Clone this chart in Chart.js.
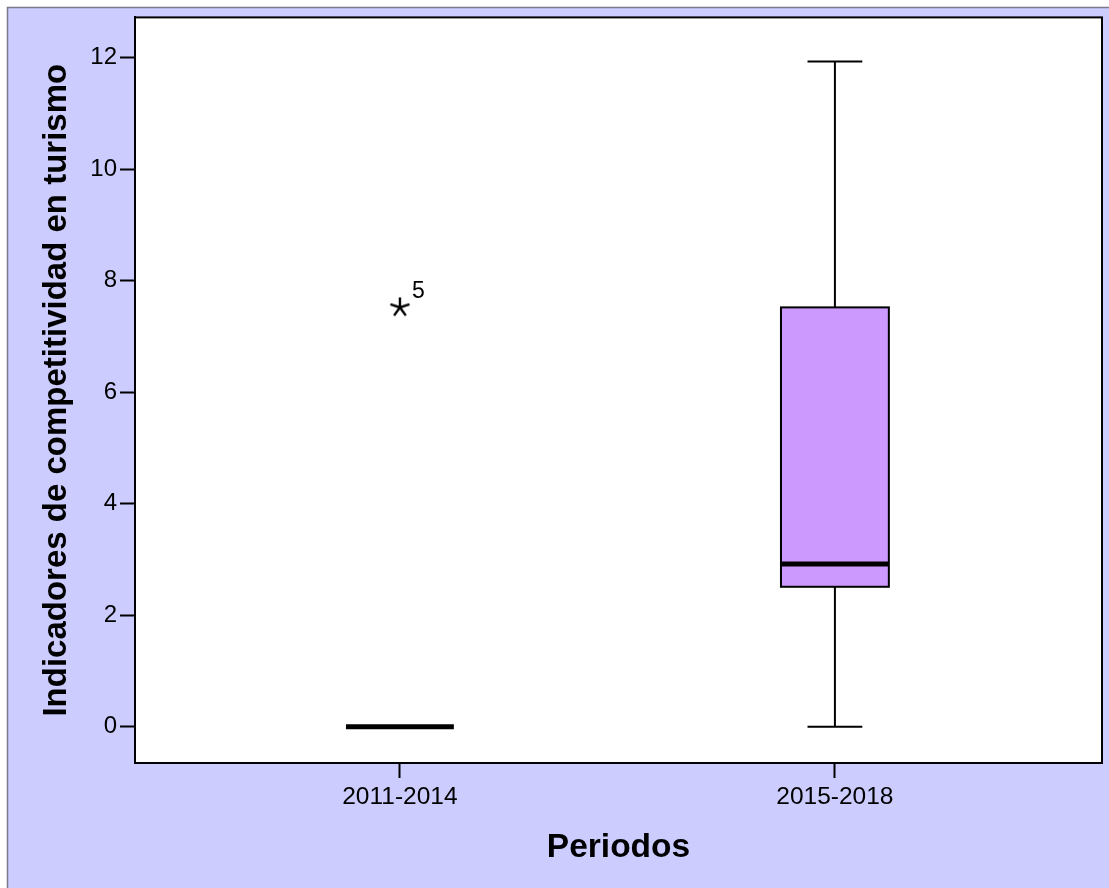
<!DOCTYPE html>
<html>
<head>
<meta charset="utf-8">
<script src="https://cdn.jsdelivr.net/npm/chart.js@4.4.1/dist/chart.umd.min.js"></script>
<style>
  html, body { margin: 0; padding: 0; background: #ffffff; }
  #wrap { width: 1109px; height: 888px; position: relative; }
</style>
</head>
<body>
<div id="wrap"><canvas id="c" width="1109" height="888"></canvas></div>
<script>
// ---- data ----
const categories = ['2011-2014', '2015-2018'];
const whiskerLow = [0, 0];
const q1Values = [0, 2.51];
const medianValues = [0, 2.92];
const q3Values = [0, 7.52];
const whiskerHigh = [0, 11.93];
const outlierGroup = [1];
const outlierValues = [7.52];
const outlierLabels = ['5'];
const yTickValues = [0, 2, 4, 6, 8, 10, 12];

const FONT = "'Liberation Sans', Arial, sans-serif";
const xPos = categories.map((c, i) => i + 1);

// asterisk marker for the outlier
function makeStar() {
  const cv = document.createElement('canvas');
  cv.width = 26; cv.height = 26;
  const g = cv.getContext('2d');
  g.strokeStyle = '#000'; g.lineWidth = 2.4; g.lineCap = 'butt';
  const r = 10, cx = 13, cy = 13;
  for (let k = 0; k < 5; k++) {
    const a = (-90 + k * 72) * Math.PI / 180;
    g.beginPath(); g.moveTo(cx, cy); g.lineTo(cx + r * Math.cos(a), cy + r * Math.sin(a)); g.stroke();
  }
  return cv;
}

const bgPlugin = {
  id: 'bgPlugin',
  beforeDraw(chart) {
    const ctx = chart.ctx;
    ctx.save();
    ctx.fillStyle = '#ffffff';
    ctx.fillRect(0, 0, chart.width, chart.height);
    ctx.fillStyle = '#CCCCFF';
    ctx.fillRect(7, 7, chart.width - 7, chart.height - 7);
    ctx.strokeStyle = '#7a7a8a';
    ctx.lineWidth = 1.5;
    ctx.beginPath();
    ctx.moveTo(7.5, chart.height); ctx.lineTo(7.5, 7.5); ctx.lineTo(chart.width, 7.5);
    ctx.stroke();
    const a = chart.chartArea;
    ctx.fillStyle = '#ffffff';
    ctx.fillRect(a.left, a.top, a.right - a.left, a.bottom - a.top);
    ctx.restore();
  }
};

const boxPlugin = {
  id: 'boxPlugin',
  afterDatasetsDraw(chart) {
    const ctx = chart.ctx;
    const xs = chart.scales.x, ys = chart.scales.y;
    const a = chart.chartArea;
    ctx.save();
    const capHalf = 0.063, boxHalf = 0.124;
    categories.forEach((c, i) => {
      const x = xs.getPixelForValue(xPos[i]);
      const unit = xs.getPixelForValue(1) - xs.getPixelForValue(0);
      const cw = capHalf * unit;
      const bw = boxHalf * unit;
      const yLo = ys.getPixelForValue(whiskerLow[i]);
      const yHi = ys.getPixelForValue(whiskerHigh[i]);
      const yQ1 = ys.getPixelForValue(q1Values[i]);
      const yQ3 = ys.getPixelForValue(q3Values[i]);
      const yMed = ys.getPixelForValue(medianValues[i]);
      ctx.strokeStyle = '#000';
      ctx.lineWidth = 2;
      if (whiskerHigh[i] > whiskerLow[i]) {
        ctx.beginPath();
        ctx.moveTo(x, yHi); ctx.lineTo(x, yQ3);
        ctx.moveTo(x, yQ1); ctx.lineTo(x, yLo);
        ctx.moveTo(x - cw, yHi); ctx.lineTo(x + cw, yHi);
        ctx.moveTo(x - cw, yLo); ctx.lineTo(x + cw, yLo);
        ctx.stroke();
      }
      if (q3Values[i] > q1Values[i]) {
        ctx.fillStyle = '#CC99FF';
        ctx.fillRect(x - bw, yQ3, 2 * bw, yQ1 - yQ3);
        ctx.strokeRect(x - bw, yQ3, 2 * bw, yQ1 - yQ3);
      }
      ctx.lineWidth = 5;
      ctx.beginPath();
      ctx.moveTo(x - bw, yMed); ctx.lineTo(x + bw, yMed);
      ctx.stroke();
    });
    // outlier labels
    ctx.fillStyle = '#000';
    ctx.font = '23px ' + FONT;
    ctx.textAlign = 'left';
    ctx.textBaseline = 'alphabetic';
    outlierValues.forEach((v, k) => {
      const x = xs.getPixelForValue(outlierGroup[k]);
      const y = ys.getPixelForValue(v);
      ctx.fillText(outlierLabels[k], x + 12, y - 9);
    });
    // plot frame
    ctx.lineWidth = 2;
    ctx.strokeStyle = '#000';
    ctx.strokeRect(a.left, a.top, a.right - a.left, a.bottom - a.top);
    ctx.restore();
  }
};

const starImg = makeStar();

new Chart(document.getElementById('c'), {
  type: 'scatter',
  data: {
    datasets: [{
      label: 'outliers',
      data: outlierValues.map((v, k) => ({ x: outlierGroup[k], y: v })),
      pointStyle: starImg,
      pointRadius: 10,
      pointHoverRadius: 10,
      showLine: false
    }]
  },
  options: {
    responsive: false,
    animation: false,
    events: [],
    layout: { autoPadding: false, padding: { left: 0, top: 17, right: 7, bottom: 0 } },
    plugins: { legend: { display: false }, tooltip: { enabled: false } },
    scales: {
      x: {
        type: 'linear',
        min: 0.391,
        max: 2.614,
        afterBuildTicks(scale) { scale.ticks = xPos.map(v => ({ value: v })); },
        afterFit(scale) { scale.height = 125; },
        ticks: {
          callback: (v) => categories[Math.round(v) - 1] || '',
          color: '#000',
          font: { family: FONT, size: 24.5 },
          padding: 5,
          maxRotation: 0
        },
        grid: { drawOnChartArea: false, drawTicks: true, tickLength: 15, tickWidth: 2, tickColor: '#000' },
        border: { display: true, color: '#000', width: 2 },
        title: {
          display: true,
          text: 'Periodos',
          color: '#000',
          font: { family: FONT, size: 33.5, weight: 'bold' },
          padding: { top: 0, bottom: 20 }
        }
      },
      y: {
        type: 'linear',
        min: -0.65,
        max: 12.72,
        afterBuildTicks(scale) { scale.ticks = yTickValues.map(v => ({ value: v })); },
        afterFit(scale) { scale.width = 135; },
        ticks: {
          color: '#000',
          font: { family: FONT, size: 24 },
          padding: 3
        },
        grid: { drawOnChartArea: false, drawTicks: true, tickLength: 15, tickWidth: 2, tickColor: '#000' },
        border: { display: true, color: '#000', width: 2 },
        title: {
          display: true,
          text: 'Indicadores de competitividad en turismo',
          color: '#000',
          font: { family: FONT, size: 33, weight: 'bold' },
          padding: { top: 37, bottom: 0 }
        }
      }
    }
  },
  plugins: [bgPlugin, boxPlugin]
});
</script>
</body>
</html>
